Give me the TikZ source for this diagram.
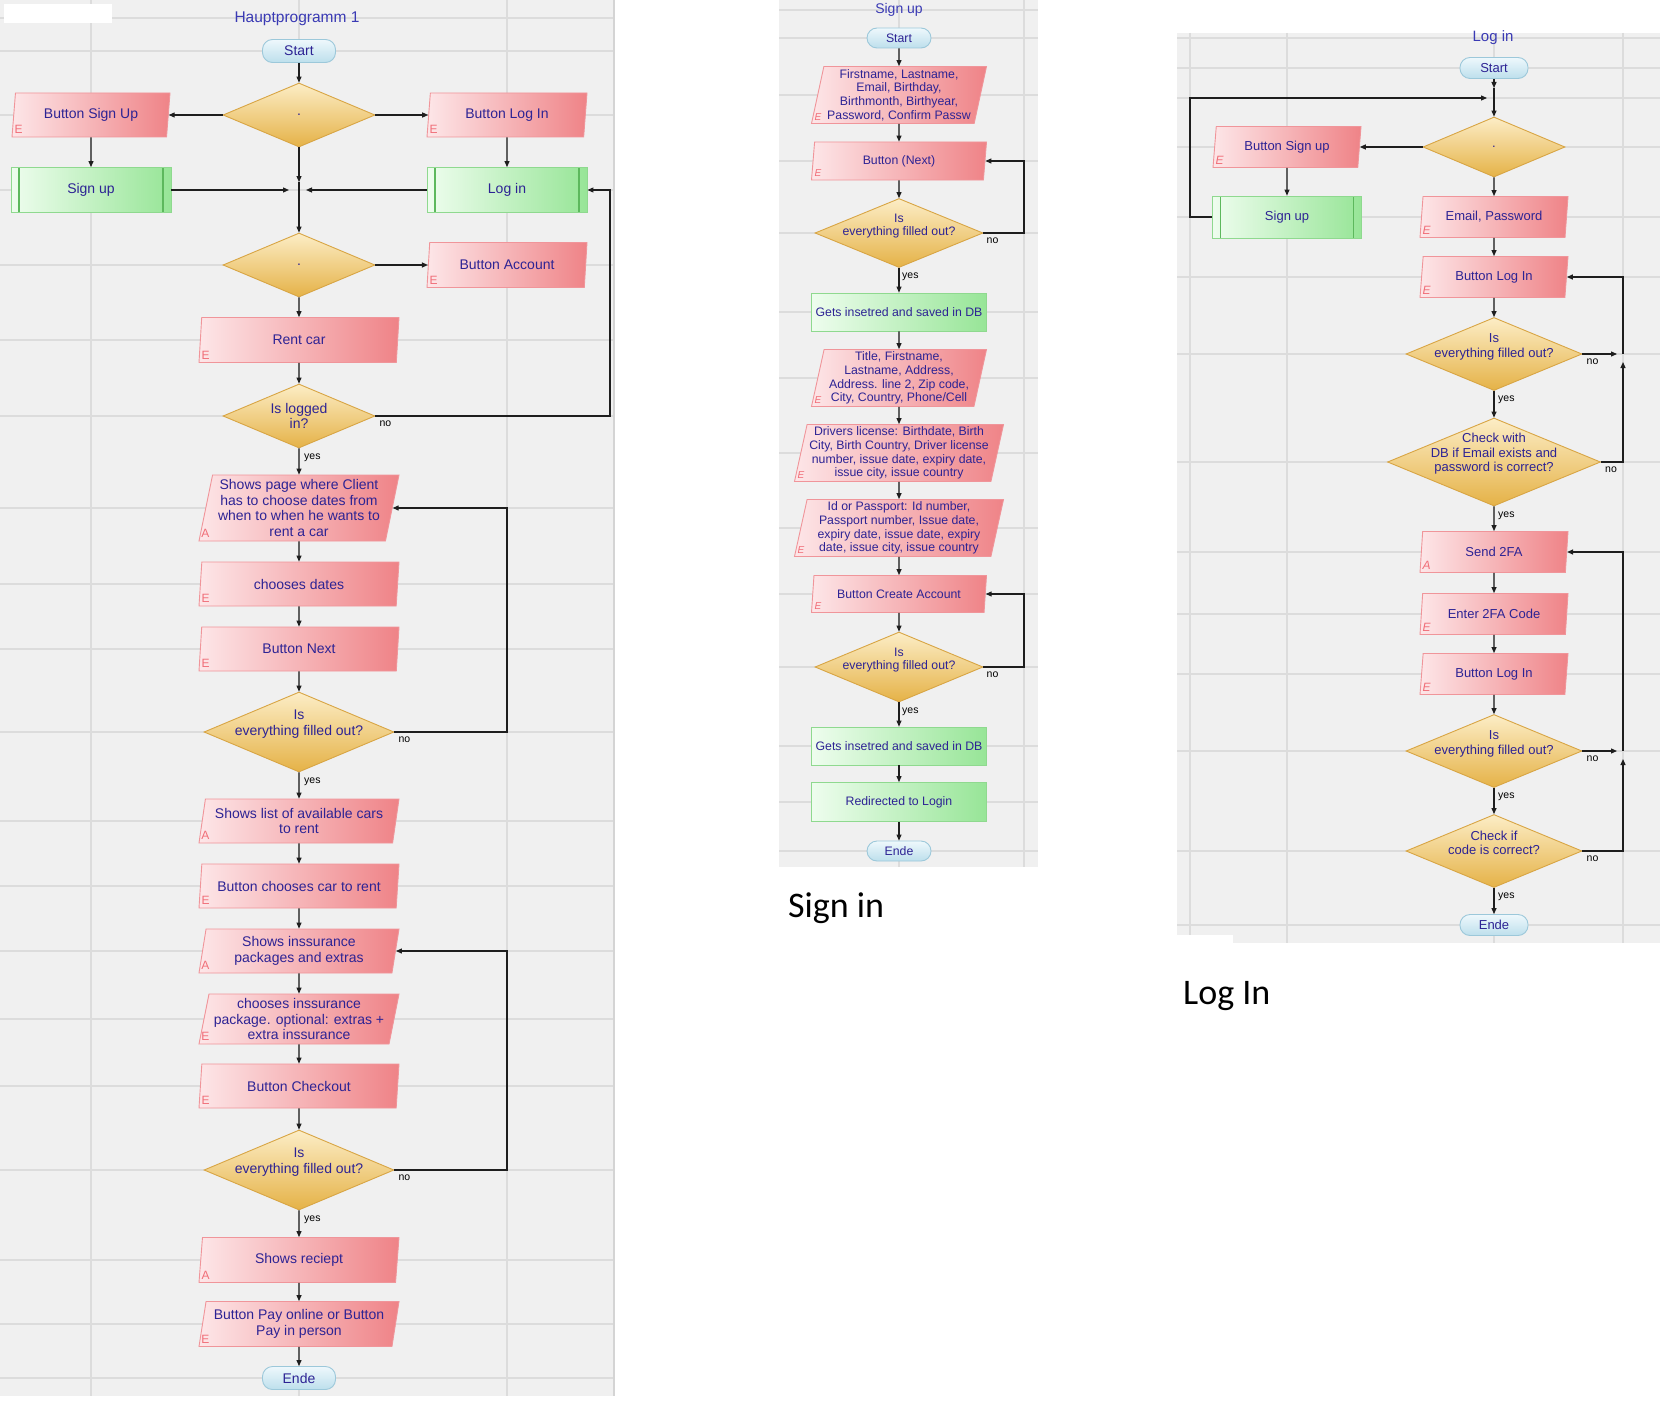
\documentclass[tikz,border=0pt]{standalone}
\usepackage{fontspec}
\setmainfont{Liberation Sans}
\newfontfamily\bigfont{Carlito}
\usepackage{tikz}
\usetikzlibrary{calc,arrows.meta,shapes.geometric}
\definecolor{panel}{HTML}{F0F0F0}
\definecolor{gridc}{HTML}{DCDCDC}
\definecolor{rimc}{HTML}{D4D4D4}
\definecolor{linec}{HTML}{1E1E1E}
\definecolor{ink}{HTML}{2D2394}
\definecolor{titlec}{HTML}{3A3AB4}
\definecolor{markc}{HTML}{F06E78}
\definecolor{termB}{HTML}{9CC8DA}
\definecolor{termT}{HTML}{EEF8FC}
\definecolor{termU}{HTML}{BDDFEC}
\definecolor{redB}{HTML}{F0959A}
\definecolor{redL}{HTML}{FDE6E8}
\definecolor{redR}{HTML}{EF8387}
\definecolor{decB}{HTML}{D8A544}
\definecolor{decT}{HTML}{FCEDC6}
\definecolor{decU}{HTML}{E5B247}
\definecolor{grnB}{HTML}{8FD98F}
\definecolor{grnL}{HTML}{EEFDEE}
\definecolor{grnR}{HTML}{97E597}
\definecolor{grnD}{HTML}{5DB85D}
\newcommand{\mainsz}{\fontsize{14}{15.5}\selectfont}
\newcommand{\signsz}{\fontsize{12.3}{13.7}\selectfont}
\newcommand{\logsz}{\fontsize{13}{14.5}\selectfont}
\tikzset{
  gridl/.style={draw=gridc, line width=1.2pt},
  rim/.style={draw=rimc, line width=2pt},
  wire/.style={draw=linec, line width=1.2pt},
  conn/.style={wire, -{Triangle[length=6pt,width=5pt]}},
  term/.style={rectangle, rounded corners=10pt, draw=termB, top color=termT, bottom color=termU, line width=0.9pt, text=ink, inner sep=0pt},
  para/.style={trapezium, trapezium left angle=77, trapezium right angle=103, trapezium stretches body, draw=redB, left color=redL, right color=redR, line width=0.9pt, text=ink, align=center, inner sep=1pt},
  dec/.style={diamond, draw=decB, top color=decT, bottom color=decU, line width=0.9pt, inner sep=0pt},
  proc/.style={rectangle, draw=grnB, left color=grnL, right color=grnR, line width=0.9pt, text=ink, inner sep=0pt},
  sub/.style={proc, path picture={
    \draw[draw=grnD, line width=1.5pt] ([xshift=8pt]path picture bounding box.north west) -- ([xshift=8pt]path picture bounding box.south west)
      ([xshift=-8pt]path picture bounding box.north east) -- ([xshift=-8pt]path picture bounding box.south east);}},
  dtxt/.style={text=ink, align=center, inner sep=0pt},
  yn/.style={text=black, font=\fontsize{10.5}{11}\selectfont, inner sep=0pt, anchor=north west},
  emark/.style={text=markc, inner sep=0pt},
  ttl/.style={text=titlec, inner sep=0pt},
}
\begin{document}
\begin{tikzpicture}[x=1pt,y=-1pt]
  \useasboundingbox (0,0) rectangle (1670,1402);
  \fill[white] (0,0) rectangle (1670,1402);
  % panels and grid
  \fill[panel] (0,0) rectangle (613,1396);
  \foreach \y in {18,51,115,190,265,340,416,508,584,649,732,821,886,951,1019,1086,1170,1260,1324,1378}
    \draw[gridl] (0,\y) -- (613,\y);
  \foreach \x in {91,299,507}
    \draw[gridl] (\x,0) -- (\x,1396);
  \draw[rim] (614,0) -- (614,1396);
  \fill[white] (4,4) rectangle (112,23);
  \fill[panel] (779,0) rectangle (1038,867);
  \foreach \y in {10,38,95,161,233,312,378,453,528,594,667,746,802,851}
    \draw[gridl] (779,\y) -- (1038,\y);
  \foreach \x in {899,1024}
    \draw[gridl] (\x,0) -- (\x,867);
  \fill[panel] (1177,33) rectangle (1660,943);
  \foreach \y in {38,68,98,147,217,277,354,462,552,614,674,751,851,925}
    \draw[gridl] (1177,\y) -- (1660,\y);
  \foreach \x in {1190,1287,1494,1623}
    \draw[gridl] (\x,33) -- (\x,943);
  \fill[white] (1177,935) rectangle (1233,943);

  % Hauptprogramm
  \begin{scope}[font=\mainsz]
  \node[ttl, font=\fontsize{15.5}{16}\selectfont] (mtitle) at (297,19) {Hauptprogramm 1};
  \node[term, minimum width=73pt, minimum height=23pt] (mstart) at (299,51) {Start};
  \node[dec, minimum width=152pt, minimum height=64pt, label={[dtxt]center:.}] (md1) at (299,115) {};
  \node[para, minimum width=158pt, minimum height=44pt] (mbsu) at (91,115) {Button Sign Up};
  \node[para, minimum width=160pt, minimum height=44pt] (mbli) at (507,115) {Button Log In};
  \node[sub, minimum width=160pt, minimum height=45pt] (msu) at (91,190) {Sign up};
  \node[sub, minimum width=160pt, minimum height=45pt] (mli) at (507,190) {Log in};
  \coordinate (mj) at (299,190);
  \node[dec, minimum width=152pt, minimum height=64pt, label={[dtxt]center:.}] (md2) at (299,265) {};
  \node[para, minimum width=160pt, minimum height=45pt] (mbac) at (507,265) {Button Account};
  \node[para, minimum width=200pt, minimum height=45pt] (mrent) at (299,340) {Rent car};
  \node[dec, minimum width=152pt, minimum height=64pt, label={[dtxt]center:{Is logged\\in?}}] (mlog) at (299,416) {};
  \node[para, minimum width=200pt, minimum height=66pt] (mdates) at (299,508) {Shows page where Client\\has to choose dates from\\when to when he wants to\\rent a car};
  \node[para, minimum width=200pt, minimum height=44pt] (mchoose) at (299,584) {chooses dates};
  \node[para, minimum width=200pt, minimum height=44pt] (mnext) at (299,649) {Button Next};
  \node[dec, minimum width=190pt, minimum height=80pt, label={[dtxt,yshift=8pt]center:{Is\\everything filled out?}}] (mfill1) at (299,732) {};
  \node[para, minimum width=200pt, minimum height=44pt] (mlist) at (299,821) {Shows list of available cars\\to rent};
  \node[para, minimum width=200pt, minimum height=44pt] (mcar) at (299,886) {Button chooses car to rent};
  \node[para, minimum width=200pt, minimum height=44pt] (mins) at (299,951) {Shows inssurance\\packages and extras};
  \node[para, minimum width=200pt, minimum height=50pt] (mpack) at (299,1019) {chooses inssurance\\package. optional: extras +\\extra inssurance};
  \node[para, minimum width=200pt, minimum height=44pt] (mcheck) at (299,1086) {Button Checkout};
  \node[dec, minimum width=190pt, minimum height=80pt, label={[dtxt,yshift=8pt]center:{Is\\everything filled out?}}] (mfill2) at (299,1170) {};
  \node[para, minimum width=200pt, minimum height=45pt] (mbill) at (299,1260) {Shows reciept};
  \node[para, minimum width=200pt, minimum height=45pt] (mpay) at (299,1324) {Button Pay online or Button\\Pay in person};
  \node[term, minimum width=73pt, minimum height=23pt] (mend) at (299,1378) {Ende};
  \end{scope}
  \foreach \n/\m in {mbsu/E,mbli/E,mbac/E,mrent/E,mdates/A,mchoose/E,mnext/E,mlist/A,mcar/E,mins/A,mpack/E,mcheck/E,mbill/A,mpay/E}
    \node[emark, font=\fontsize{12}{12}\selectfont] (\n m) at ($(\n.bottom left corner)+(7,-8)$) {\m};
  \draw[conn] (mstart.south) -- (md1.north);
  \draw[conn] (md1.west) -- (mbsu.right side);
  \draw[conn] (md1.east) -- (mbli.left side);
  \draw[conn] (mbsu.south) -- (msu.north);
  \draw[conn] (mbli.south) -- (mli.north);
  \draw[conn] (md1.south) -- ([yshift=8pt]mj);
  \draw[conn] ([yshift=8pt]mj) -- (md2.north);
  \draw[conn] (msu.east) -- ([xshift=-10pt]mj);
  \draw[conn] (mli.west) -- ([xshift=7pt]mj);
  \draw[conn] (md2.east) -- (mbac.left side);
  \foreach \a/\b in {md2/mrent,mrent/mlog,mlog/mdates,mdates/mchoose,mchoose/mnext,mnext/mfill1,mfill1/mlist,mlist/mcar,mcar/mins,mins/mpack,mpack/mcheck,mcheck/mfill2,mfill2/mbill,mbill/mpay,mpay/mend}
    \draw[conn] (\a.south) -- (\b.north);
  \coordinate (mcol) at (507,0);
  \coordinate (medge) at (610,0);
  \draw[conn] (mlog.east) -- (mlog.east -| medge) |- (mli.east);
  \draw[conn] (mfill1.east) -- (mfill1.east -| mcol) |- (mdates.right side);
  \draw[conn] (mfill2.east) -- (mfill2.east -| mcol) |- (mins.right side);
  \foreach \n in {mlog,mfill1,mfill2} {
    \node[yn] (\n y) at ($(\n.south)+(5,5)$) {yes};
    \node[yn] (\n n) at ($(\n.east)+(4,5)$) {no};
  }

  % Sign up
  \begin{scope}[font=\signsz]
  \node[ttl, font=\fontsize{14}{15}\selectfont] (stitle) at (899,10) {Sign up};
  \node[term, minimum width=64pt, minimum height=20pt] (sstart) at (899,38) {Start};
  \node[para, minimum width=175pt, minimum height=57pt] (sname) at (899,95) {Firstname, Lastname,\\Email, Birthday,\\Birthmonth, Birthyear,\\Password, Confirm Passw};
  \node[para, minimum width=175pt, minimum height=38pt] (snext) at (899,161) {Button (Next)};
  \node[dec, minimum width=168pt, minimum height=69pt, label={[dtxt,yshift=7pt]center:{Is\\everything filled out?}}] (sfill1) at (899,233) {};
  \node[proc, minimum width=175pt, minimum height=38pt] (sdb1) at (899,312) {Gets insetred and saved in DB};
  \node[para, minimum width=175pt, minimum height=57pt] (saddr) at (899,378) {Title, Firstname,\\Lastname, Address,\\Address. line 2, Zip code,\\City, Country, Phone/Cell};
  \node[para, minimum width=209pt, minimum height=57pt] (sdrv) at (899,453) {Drivers license: Birthdate, Birth\\City, Birth Country, Driver license\\number, issue date, expiry date,\\issue city, issue country};
  \node[para, minimum width=209pt, minimum height=57pt] (sid) at (899,528) {Id or Passport: Id number,\\Passport number, Issue date,\\expiry date, issue date, expiry\\date, issue city, issue country};
  \node[para, minimum width=175pt, minimum height=37pt] (screate) at (899,594) {Button Create Account};
  \node[dec, minimum width=168pt, minimum height=70pt, label={[dtxt,yshift=7pt]center:{Is\\everything filled out?}}] (sfill2) at (899,667) {};
  \node[proc, minimum width=175pt, minimum height=38pt] (sdb2) at (899,746) {Gets insetred and saved in DB};
  \node[proc, minimum width=175pt, minimum height=39pt] (sredir) at (899,802) {Redirected to Login};
  \node[term, minimum width=64pt, minimum height=20pt] (send) at (899,851) {Ende};
  \end{scope}
  \foreach \n/\m in {sname/E,snext/E,saddr/E,sdrv/E,sid/E,screate/E}
    \node[emark, font=\itshape\fontsize{10}{10}\selectfont] (\n m) at ($(\n.bottom left corner)+(7,-7)$) {\m};
  \foreach \a/\b in {sstart/sname,sname/snext,snext/sfill1,sfill1/sdb1,sdb1/saddr,saddr/sdrv,sdrv/sid,sid/screate,screate/sfill2,sfill2/sdb2,sdb2/sredir,sredir/send}
    \draw[conn] (\a.south) -- (\b.north);
  \coordinate (scol) at (1024,0);
  \draw[conn] (sfill1.east) -- (sfill1.east -| scol) |- (snext.right side);
  \draw[conn] (sfill2.east) -- (sfill2.east -| scol) |- (screate.right side);
  \foreach \n in {sfill1,sfill2} {
    \node[yn] (\n y) at ($(\n.south)+(3,5)$) {yes};
    \node[yn] (\n n) at ($(\n.east)+(3,5)$) {no};
  }
  \node[anchor=base west, inner sep=0pt, font=\bigfont\fontsize{36}{40}\selectfont] (signin) at (788,917) {Sign in};

  % Log in
  \begin{scope}[font=\logsz]
  \node[ttl, font=\fontsize{15}{16}\selectfont] (ltitle) at (1493,38) {Log in};
  \node[term, minimum width=68pt, minimum height=21pt] (lstart) at (1494,68) {Start};
  \coordinate (lj1) at (1494,98);
  \node[dec, minimum width=142pt, minimum height=60pt, label={[dtxt]center:.}] (ld0) at (1494,147) {};
  \node[para, minimum width=148pt, minimum height=41pt] (lbsu) at (1287,147) {Button Sign up};
  \node[sub, minimum width=149pt, minimum height=42pt] (lsu) at (1287,217) {Sign up};
  \node[para, minimum width=148pt, minimum height=41pt] (lmail) at (1494,217) {Email, Password};
  \node[para, minimum width=148pt, minimum height=41pt] (lbli) at (1494,277) {Button Log In};
  \node[dec, minimum width=176pt, minimum height=73pt, label={[dtxt,yshift=7pt]center:{Is\\everything filled out?}}] (lfill1) at (1494,354) {};
  \coordinate (lj2) at (1623,354);
  \node[dec, minimum width=213pt, minimum height=88pt, label={[dtxt,yshift=8pt]center:{Check with\\DB if Email exists and\\password is correct?}}] (ldb) at (1494,462) {};
  \node[para, minimum width=148pt, minimum height=41pt] (l2fa) at (1494,552) {Send 2FA};
  \node[para, minimum width=148pt, minimum height=41pt] (lcode) at (1494,614) {Enter 2FA Code};
  \node[para, minimum width=148pt, minimum height=41pt] (lbli2) at (1494,674) {Button Log In};
  \node[dec, minimum width=176pt, minimum height=73pt, label={[dtxt,yshift=7pt]center:{Is\\everything filled out?}}] (lfill2) at (1494,751) {};
  \coordinate (lj3) at (1623,751);
  \node[dec, minimum width=176pt, minimum height=73pt, label={[dtxt,yshift=8pt]center:{Check if\\code is correct?}}] (lcc) at (1494,851) {};
  \node[term, minimum width=68pt, minimum height=21pt] (lend) at (1494,925) {Ende};
  \end{scope}
  \foreach \n/\m in {lbsu/E,lmail/E,lbli/E,l2fa/A,lcode/E,lbli2/E}
    \node[emark, font=\itshape\fontsize{12}{12}\selectfont] (\n m) at ($(\n.bottom left corner)+(7,-8)$) {\m};
  \coordinate (lleft) at (1190,0);
  \draw[conn] (lstart.south) -- ([yshift=10pt]lj1);
  \draw[conn] ([yshift=10pt]lj1) -- (ld0.north);
  \draw[conn] (ld0.west) -- (lbsu.right side);
  \draw[conn] (lbsu.south) -- (lsu.north);
  \draw[conn] (lsu.west) -- (lsu.west -| lleft) |- ([xshift=-7pt]lj1);
  \foreach \a/\b in {ld0/lmail,lmail/lbli,lbli/lfill1,lfill1/ldb,ldb/l2fa,l2fa/lcode,lcode/lbli2,lbli2/lfill2,lfill2/lcc,lcc/lend}
    \draw[conn] (\a.south) -- (\b.north);
  \draw[conn] (lfill1.east) -- ([xshift=-6pt]lj2);
  \draw[conn] (ldb.east) -| ([yshift=-8pt]lj2);
  \draw[conn] (lj2) |- (lbli.right side);
  \draw[conn] (lfill2.east) -- ([xshift=-6pt]lj3);
  \draw[conn] (lcc.east) -| ([yshift=-8pt]lj3);
  \draw[conn] (lj3) |- (l2fa.right side);
  \foreach \n in {lfill1,ldb,lfill2,lcc} {
    \node[yn] (\n y) at ($(\n.south)+(4,5)$) {yes};
    \node[yn] (\n n) at ($(\n.east)+(4,5)$) {no};
  }
  \node[anchor=base west, inner sep=0pt, font=\bigfont\fontsize{36}{40}\selectfont] (logtxt) at (1183,1004) {Log In};
\end{tikzpicture}
\end{document}
